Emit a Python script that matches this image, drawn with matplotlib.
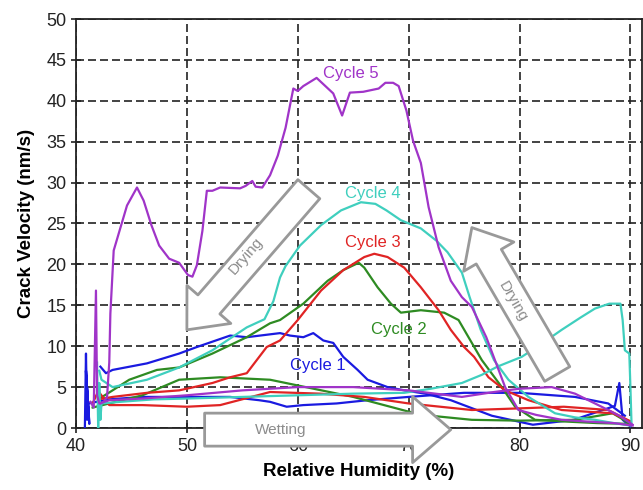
import numpy as np
import matplotlib.pyplot as plt

plt.rcParams['font.family'] = ['Liberation Sans', 'DejaVu Sans']

# ---- data ----
# Cycle 5 (purple)
c5_dry_x = [90.2, 88.5, 86.0, 83.8, 81.5, 79.9, 78.7, 77.0, 75.7, 74.8, 73.8, 72.7, 71.8, 71.1, 70.4,
            69.8, 69.1, 68.6, 67.9, 67.3, 65.9, 64.7, 64.0, 63.2, 61.7, 60.5, 60.0, 59.6, 58.9, 58.2,
            57.5, 56.8, 56.2, 55.9, 55.3, 54.8, 53.0, 52.3, 51.8, 51.4, 50.9, 50.5, 50.1, 49.3, 48.4,
            47.5, 46.8, 46.1, 45.5, 44.6, 43.4, 43.1, 43.0, 42.8, 42.5, 42.2]
c5_dry_y = [0.3, 0.6, 0.8, 1.0, 1.6, 2.2, 5.0, 11.1, 14.8, 16.0, 18.0, 22.1, 27.0, 32.4, 35.1,
            38.8, 41.8, 42.2, 42.2, 41.5, 41.1, 41.0, 38.2, 40.9, 42.8, 41.8, 41.2, 41.5, 36.7, 33.3,
            30.9, 29.4, 29.5, 30.2, 29.6, 29.3, 29.4, 29.0, 29.0, 24.1, 19.9, 18.5, 18.7, 20.2, 20.7,
            22.3, 24.8, 27.8, 29.4, 27.2, 21.7, 14.0, 8.0, 3.8, 3.2, 3.0]
c5_wet_x = [41.3, 41.6, 41.8, 41.9, 42.1, 43.0, 46.0, 50.0, 55.0, 60.0, 65.0, 70.0, 74.8, 77.7,
            80.0, 82.9, 85.0, 87.4, 89.0, 90.2]
c5_wet_y = [3.2, 2.5, 16.8, 4.0, 3.0, 3.4, 3.6, 4.0, 4.6, 5.0, 5.0, 4.6, 3.8, 4.4,
            4.8, 5.0, 4.2, 2.6, 1.5, 0.4]

# Cycle 4 (turquoise)
c4_dry_x = [90.0, 88.5, 86.8, 85.0, 83.2, 80.8, 79.0, 77.7, 76.5, 75.5, 74.8, 73.5, 72.5, 71.1,
            69.3, 68.0, 67.0, 65.7, 63.9, 62.1, 60.2, 58.9, 58.4, 57.8, 57.0, 55.4, 52.3, 49.3,
            46.4, 43.3, 42.3, 42.1]
c4_dry_y = [0.3, 0.6, 1.0, 1.3, 1.8, 3.8, 5.9, 8.3, 12.0, 16.0, 19.0, 21.5, 22.9, 24.4,
            25.4, 26.6, 27.4, 27.6, 26.6, 24.8, 22.3, 19.8, 18.4, 15.5, 13.3, 12.3, 9.5, 7.4,
            5.9, 5.0, 5.9, 7.0]
c4_wet_x = [41.9, 42.0, 42.1, 42.2, 42.3, 44.0, 47.0, 50.0, 55.0, 60.0, 65.0, 69.6, 72.0, 74.8,
            76.6, 78.0, 80.2, 82.0, 83.8, 85.5, 86.8, 88.1, 89.1, 89.3, 89.5, 89.9, 90.0, 90.1]
c4_wet_y = [8.0, 0.0, 5.5, 1.0, 3.0, 3.2, 3.5, 3.6, 3.8, 4.0, 4.2, 4.3, 4.8, 5.5,
            6.5, 7.5, 8.7, 10.3, 12.0, 13.5, 14.6, 15.2, 15.2, 13.2, 9.5, 9.1, 5.0, 0.5]

# Cycle 3 (red)
c3_dry_x = [90.0, 88.4, 86.0, 83.8, 80.8, 78.7, 77.2, 75.9, 75.0, 73.8, 72.7, 71.1, 69.6, 68.1,
            66.9, 66.0, 64.1, 62.1, 60.0, 58.4, 57.2, 55.4, 53.9, 52.3, 49.3, 46.4, 43.3, 42.0]
c3_dry_y = [0.8, 1.8, 2.0, 2.2, 3.4, 4.6, 6.2, 8.7, 9.9, 12.0, 14.4, 17.2, 19.6, 20.9,
            21.3, 20.9, 19.3, 16.8, 13.2, 10.7, 9.9, 6.7, 6.2, 5.5, 4.6, 4.3, 3.8, 3.5]
c3_wet_x = [41.5, 42.0, 43.0, 46.0, 50.0, 53.0, 57.5, 62.0, 66.0, 70.0, 75.7, 80.0, 84.0, 88.0, 90.0]
c3_wet_y = [3.0, 4.5, 2.8, 2.8, 2.6, 2.8, 4.4, 4.2, 3.8, 3.0, 2.2, 2.4, 2.6, 2.2, 0.8]

# Cycle 2 (green)
c2_dry_x = [90.0, 87.0, 84.0, 81.4, 79.6, 78.4, 76.6, 74.5, 73.2, 71.1, 69.3, 68.4, 67.2, 66.0,
            65.5, 64.1, 62.7, 60.5, 58.4, 57.5, 55.4, 52.3, 49.3, 47.3, 44.8, 43.3, 42.0]
c2_dry_y = [0.5, 0.6, 0.8, 1.0, 2.6, 5.0, 8.3, 13.2, 14.1, 14.4, 14.1, 15.2, 17.2, 19.6,
            20.2, 19.3, 18.0, 15.2, 13.2, 12.8, 11.1, 9.1, 7.4, 7.1, 5.9, 4.6, 3.5]
c2_wet_x = [41.5, 43.0, 46.0, 49.3, 53.0, 57.5, 60.0, 65.0, 70.0, 72.0, 75.7, 80.0, 85.0, 88.4, 90.0]
c2_wet_y = [2.5, 3.0, 4.0, 5.9, 6.2, 5.9, 5.2, 3.8, 2.0, 1.5, 1.0, 0.9, 1.0, 1.8, 0.5]

# Cycle 1 (blue)
c1_dry_x = [90.0, 89.3, 89.0, 88.6, 84.9, 81.2, 77.5, 73.8, 71.5, 69.6, 68.1, 66.3, 65.4, 64.1,
            63.2, 62.3, 61.4, 60.5, 59.3, 58.4, 55.4, 53.9, 50.9, 49.3, 46.4, 43.3, 42.7, 42.2]
c1_dry_y = [0.2, 1.0, 5.5, 2.7, 1.0, 0.4, 1.5, 3.4, 4.2, 4.6, 5.0, 5.9, 7.1, 8.7,
            10.4, 10.7, 11.6, 11.1, 11.3, 11.6, 11.1, 11.3, 9.9, 9.1, 7.9, 7.1, 6.7, 7.5]
c1_wet_x = [40.8, 40.9, 41.0, 40.9, 41.1, 41.0, 41.2, 41.1, 43.0, 46.0, 49.3, 53.9, 56.5, 57.5,
            59.0, 60.5, 63.5, 66.3, 70.0, 75.0, 80.0, 85.0, 88.0, 89.5]
c1_wet_y = [0.0, 9.1, 1.0, 7.0, 2.0, 5.0, 0.5, 3.0, 3.5, 3.8, 3.8, 3.8, 3.4, 3.2,
            2.6, 2.8, 3.0, 3.4, 3.8, 4.3, 4.3, 3.8, 3.0, 1.5]

cycles = ['Cycle 1', 'Cycle 2', 'Cycle 3', 'Cycle 4', 'Cycle 5']
colors = ['#1a1ae0', '#2e8b22', '#e02424', '#3fcfbe', '#a034c8']
label_x = [61.8, 69.1, 66.8, 66.8, 64.8]
label_y = [7.7, 12.0, 22.7, 28.7, 43.3]

dry = [(c1_dry_x, c1_dry_y), (c2_dry_x, c2_dry_y), (c3_dry_x, c3_dry_y),
       (c4_dry_x, c4_dry_y), (c5_dry_x, c5_dry_y)]
wet = [(c1_wet_x, c1_wet_y), (c2_wet_x, c2_wet_y), (c3_wet_x, c3_wet_y),
       (c4_wet_x, c4_wet_y), (c5_wet_x, c5_wet_y)]

fig = plt.figure(figsize=(6.43, 4.90), dpi=100)
ax = fig.add_axes([76 / 643, 1 - 428 / 490, 565.5 / 643, 409 / 490])

for i in range(5):
    ax.plot(wet[i][0], wet[i][1], color=colors[i], lw=1.6, zorder=3)
    ax.plot(dry[i][0], dry[i][1], color=colors[i], lw=1.6, zorder=3)
    ax.text(label_x[i], label_y[i], cycles[i], color=colors[i], fontsize=12,
            ha='center', va='center', zorder=4)

ax.set_xlim(40, 91)
ax.set_ylim(0, 50)
ax.set_xticks([40, 50, 60, 70, 80, 90])
ax.set_yticks(np.arange(0, 51, 5))
ax.grid(True, color='#222222', lw=1.2, dashes=(4.8, 2.4))
ax.tick_params(direction='inout', length=7, width=1.2, labelsize=13, colors='#222222')
for s in ax.spines.values():
    s.set_linewidth(1.3)
    s.set_color('#222222')
ax.set_xlabel('Relative Humidity (%)', fontsize=13.5, fontweight='bold', labelpad=6)
ax.set_ylabel('Crack Velocity (nm/s)', fontsize=13.5, fontweight='bold', labelpad=8)

# big outlined arrows
arrow_style = 'simple,head_length=1.1,head_width=1.9,tail_width=0.95'
def fat_arrow(tail, tip, scale):
    ax.annotate('', xy=tip, xytext=tail, annotation_clip=False, zorder=5,
                arrowprops=dict(arrowstyle=arrow_style, fc='white', ec='#999999', lw=2,
                                shrinkA=0, shrinkB=0, mutation_scale=scale))

fat_arrow((61.0, 29.2), (50.0, 12.0), 22)
fat_arrow((83.4, 6.6), (75.7, 24.5), 22)
fat_arrow((51.6, -0.2), (73.8, -0.2), 25)

ax.text(55.3, 21.0, 'Drying', rotation=49, color='#8c8c8c', fontsize=11,
        ha='center', va='center', zorder=6)
ax.text(79.4, 15.4, 'Drying', rotation=-60, color='#8c8c8c', fontsize=11,
        ha='center', va='center', zorder=6)
ax.text(58.5, -0.2, 'Wetting', color='#8c8c8c', fontsize=11,
        ha='center', va='center', zorder=6)

fig.savefig('out.png', dpi=100)
